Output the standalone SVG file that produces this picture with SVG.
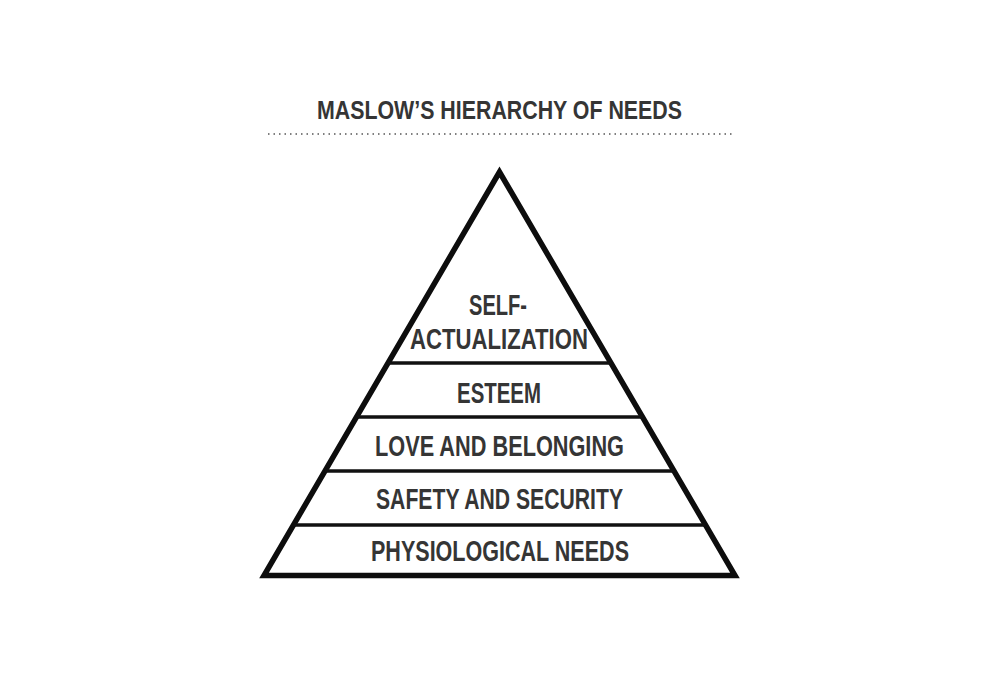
<svg xmlns="http://www.w3.org/2000/svg" width="1000" height="683" viewBox="0 0 1000 683">
<style>
.t{font-family:"Liberation Sans",Arial,sans-serif;font-weight:bold;fill:#353535;text-anchor:middle}
.lbl{font-size:29px}
.title{font-size:25.5px}
.div{stroke:#111;stroke-width:3.5;fill:none}
</style>
<rect width="1000" height="683" fill="#fff"/>
<g id="title">
<text class="t title" x="499.5" y="119" textLength="365" lengthAdjust="spacingAndGlyphs">MASLOW’S HIERARCHY OF NEEDS</text>
<line x1="268" y1="134" x2="732" y2="134" stroke="#555" stroke-width="1.5" stroke-dasharray="1.5 4"/>
</g>
<g id="pyramid">
<polygon points="499.5,172 264,575.5 735,575.5" fill="#fff" stroke="#0d0d0d" stroke-width="5.5" stroke-linejoin="miter" stroke-miterlimit="10"/>
</g>
<g id="connectors">
<line class="div" x1="388" y1="363" x2="611" y2="363"/>
<line class="div" x1="356.5" y1="417" x2="642.5" y2="417"/>
<line class="div" x1="325" y1="471" x2="674" y2="471"/>
<line class="div" x1="293.5" y1="525" x2="705.5" y2="525"/>
</g>
<g id="self-actualization">
<text class="t lbl" x="498" y="315" textLength="58" lengthAdjust="spacingAndGlyphs">SELF-</text>
<text class="t lbl" x="499" y="349" textLength="178" lengthAdjust="spacingAndGlyphs">ACTUALIZATION</text>
</g>
<g id="esteem">
<text class="t lbl" x="499" y="403" textLength="84" lengthAdjust="spacingAndGlyphs">ESTEEM</text>
</g>
<g id="love">
<text class="t lbl" x="499.5" y="456" textLength="249" lengthAdjust="spacingAndGlyphs">LOVE AND BELONGING</text>
</g>
<g id="safety">
<text class="t lbl" x="499.5" y="509" textLength="247" lengthAdjust="spacingAndGlyphs">SAFETY AND SECURITY</text>
</g>
<g id="physiological">
<text class="t lbl" x="500" y="561" textLength="258" lengthAdjust="spacingAndGlyphs">PHYSIOLOGICAL NEEDS</text>
</g>
</svg>
